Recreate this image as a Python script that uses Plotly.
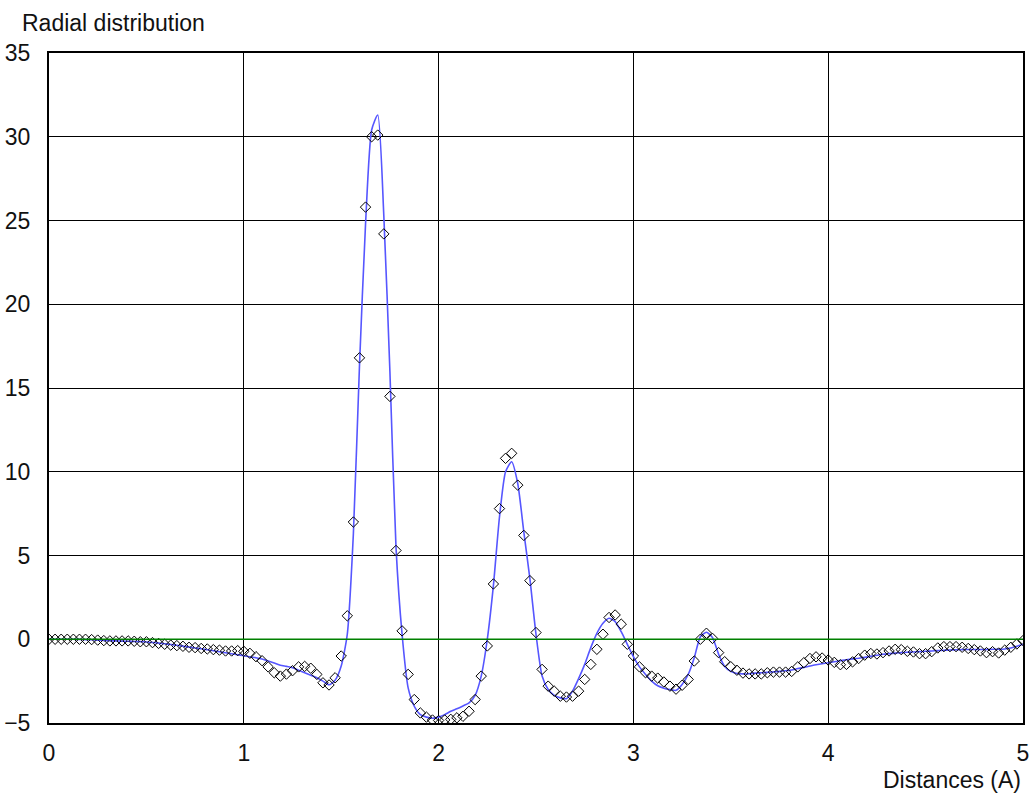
import numpy as np
import plotly.graph_objects as go

# Distance grid (Angstrom) shared by the experimental points and the fitted curve
distance = np.linspace(0, 5, 161)

# Experimental radial distribution (open diamonds)
experimental = [
    0.00, 0.00, 0.00, 0.00, 0.00, 0.00, 0.00, -0.02, -0.05, -0.08,
    -0.10, -0.10, -0.10, -0.10, -0.12, -0.15, -0.15, -0.20, -0.25, -0.30,
    -0.35, -0.38, -0.42, -0.48, -0.50, -0.55, -0.58, -0.62, -0.65, -0.70,
    -0.70, -0.68, -0.72, -0.84, -1.04, -1.28, -1.65, -2.00, -2.20, -2.08,
    -1.88, -1.65, -1.62, -1.73, -2.10, -2.60, -2.73, -2.30, -1.00, 1.40,
    7.0, 16.8, 25.8, 30.0, 30.1, 24.2, 14.5, 5.3, 0.5, -2.1,
    -3.6, -4.4, -4.65, -4.82, -4.85, -4.82, -4.78, -4.69, -4.60, -4.30,
    -3.60, -2.20, -0.40, 3.3, 7.8, 10.8, 11.1, 9.2, 6.2, 3.5,
    0.4, -1.8, -2.8, -3.1, -3.4, -3.45, -3.4, -3.1, -2.4, -1.5,
    -0.6, 0.3, 1.3, 1.45, 0.9, -0.3, -1.0, -1.65, -2.0, -2.2,
    -2.32, -2.55, -2.8, -2.98, -2.75, -2.4, -1.3, 0.0, 0.36, 0.05,
    -0.8, -1.34, -1.64, -1.85, -2.02, -2.07, -2.07, -2.07, -2.0, -1.96,
    -1.96, -1.96, -1.92, -1.65, -1.40, -1.15, -1.05, -1.12, -1.24, -1.38,
    -1.52, -1.50, -1.35, -1.15, -0.95, -0.85, -0.88, -0.80, -0.70, -0.60,
    -0.62, -0.72, -0.76, -0.86, -0.86, -0.74, -0.52, -0.44, -0.44, -0.44,
    -0.48, -0.55, -0.62, -0.70, -0.80, -0.74, -0.82, -0.65, -0.48, -0.28,
    -0.08,
]

# Fitted radial distribution (blue curve)
fitted = [
    0.00, 0.00, 0.00, 0.00, 0.00, -0.01, -0.02, -0.03, -0.05, -0.07,
    -0.09, -0.10, -0.11, -0.12, -0.13, -0.14, -0.16, -0.19, -0.23, -0.27,
    -0.31, -0.36, -0.41, -0.47, -0.52, -0.57, -0.63, -0.69, -0.75, -0.81,
    -0.87, -0.93, -0.98, -1.05, -1.10, -1.18, -1.30, -1.42, -1.55, -1.62,
    -1.70, -1.85, -2.00, -2.15, -2.30, -2.50, -2.72, -2.45, -1.60, 0.30,
    6.3, 16.3, 24.8, 30.4, 31.3, 25.3, 16.0, 5.5, 0.3, -2.9,
    -4.0, -4.5, -4.65, -4.72, -4.65, -4.50, -4.30, -4.15, -3.98, -3.80,
    -3.35, -2.20, 0.0, 3.2, 7.3, 10.0, 10.6, 9.3, 6.4, 3.6,
    0.3, -2.2, -3.0, -3.35, -3.5, -3.55, -3.1, -2.35, -1.5, -0.5,
    0.35, 0.95, 1.25, 1.05, 0.45, -0.3, -1.04, -1.65, -2.1, -2.5,
    -2.78, -2.92, -3.0, -3.05, -2.7, -2.1, -1.1, 0.15, 0.42, 0.1,
    -0.9, -1.62, -1.92, -2.04, -2.07, -2.06, -2.02, -2.0, -1.98, -1.95,
    -1.92, -1.88, -1.84, -1.75, -1.68, -1.60, -1.52, -1.46, -1.40, -1.34,
    -1.28, -1.22, -1.17, -1.13, -1.08, -1.02, -0.96, -0.90, -0.86, -0.83,
    -0.80, -0.78, -0.76, -0.74, -0.72, -0.70, -0.68, -0.66, -0.64, -0.63,
    -0.62, -0.61, -0.61, -0.61, -0.61, -0.60, -0.60, -0.58, -0.52, -0.42,
    -0.30,
]

# Zero reference line
baseline_x = [0, 5]
baseline_y = [0, 0]

x_ticks = [0, 1, 2, 3, 4, 5]
y_ticks = [-5, 0, 5, 10, 15, 20, 25, 30, 35]

FONT = "Liberation Sans, Arial, sans-serif"
TEXT_SIZE = 23
TEXT_COLOR = "#111111"

fig = go.Figure()

fig.add_trace(go.Scatter(
    x=distance, y=fitted, mode="lines",
    line=dict(color="#5656ff", width=1.6, shape="spline", smoothing=0.6),
    hoverinfo="skip", showlegend=False,
))

fig.add_trace(go.Scatter(
    x=distance, y=experimental, mode="markers",
    marker=dict(symbol="diamond-open", size=8, color="black",
                line=dict(width=1, color="black")),
    showlegend=False,
))

fig.add_trace(go.Scatter(
    x=baseline_x, y=baseline_y, mode="lines",
    line=dict(color="#008000", width=1.4),
    hoverinfo="skip", showlegend=False,
))

axis_common = dict(
    showgrid=True, gridcolor="black", gridwidth=1.3,
    showline=True, linecolor="black", linewidth=2, mirror=True,
    zeroline=False, ticks="", automargin=False,
    tickfont=dict(family=FONT, size=TEXT_SIZE, color=TEXT_COLOR),
)

fig.update_xaxes(range=[0, 5], tickvals=x_ticks, ticklabelstandoff=8, **axis_common)
fig.update_yaxes(range=[-5, 35], tickvals=y_ticks, ticklabelstandoff=12, **axis_common)

fig.add_annotation(
    text="Radial distribution", xref="paper", yref="paper",
    x=-0.03, y=1.045, xanchor="left", yanchor="middle", showarrow=False,
    font=dict(family=FONT, size=TEXT_SIZE, color=TEXT_COLOR),
)
fig.add_annotation(
    text="Distances (A)", xref="paper", yref="paper",
    x=1.0, y=-0.085, xanchor="right", yanchor="middle", showarrow=False,
    font=dict(family=FONT, size=TEXT_SIZE, color=TEXT_COLOR),
)

fig.update_layout(
    width=1031, height=794,
    margin=dict(l=49, r=8, t=53, b=71, autoexpand=False),
    paper_bgcolor="white", plot_bgcolor="white",
)

fig.write_html("out.html")
